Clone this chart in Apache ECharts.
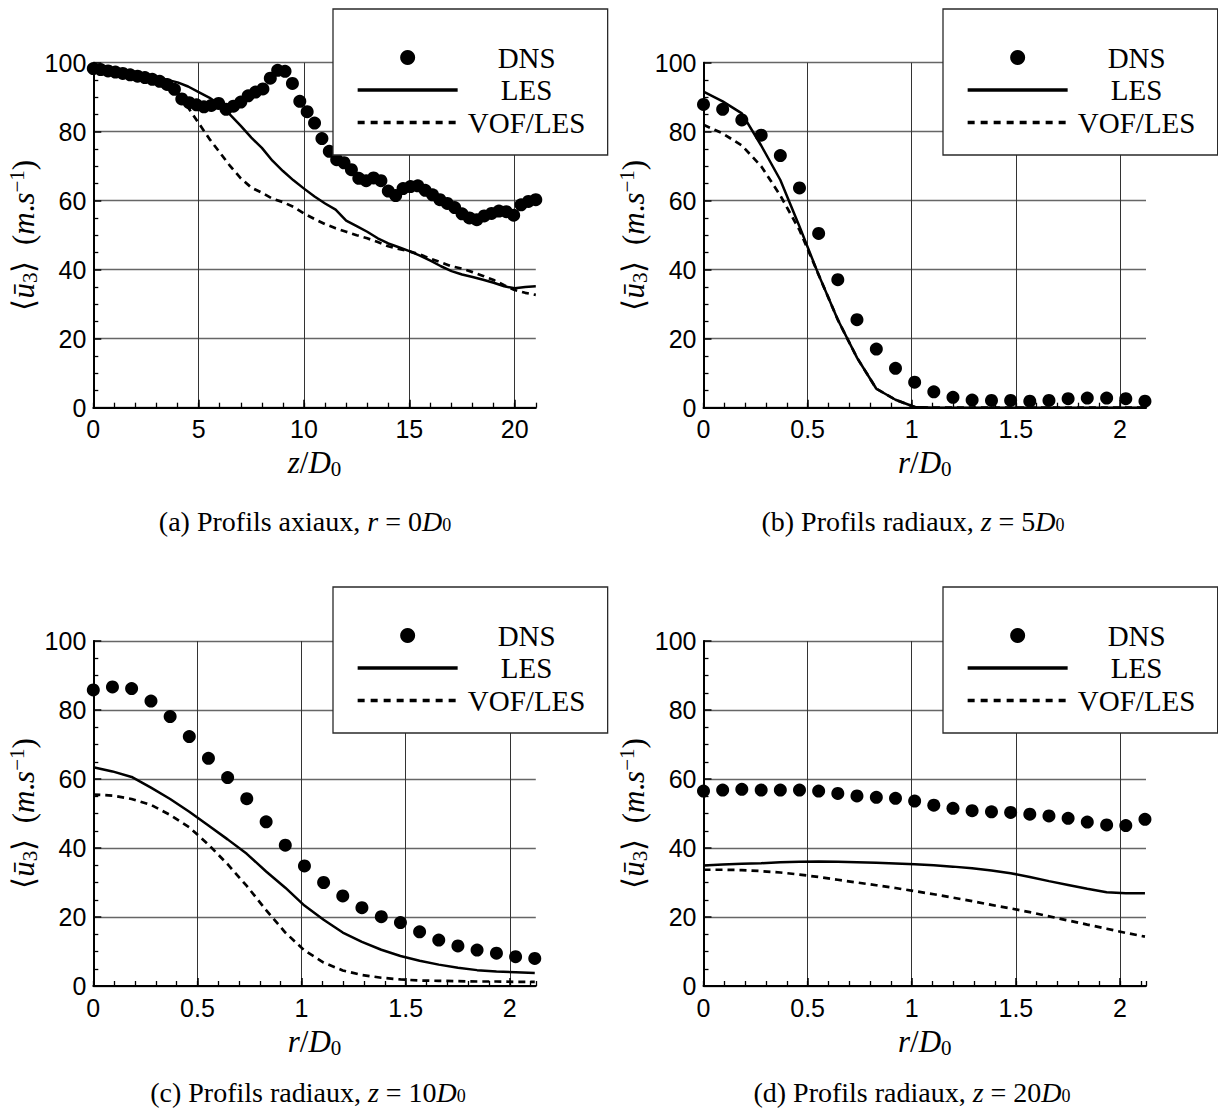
<!DOCTYPE html>
<html><head><meta charset="utf-8">
<script src="https://cdn.jsdelivr.net/npm/echarts@6/dist/echarts.min.js"></script>
<style>html,body{margin:0;padding:0;background:#fff}#c{width:1218px;height:1110px}</style>
</head><body><div id="c"></div>
<script>
// ---------- data ----------
// (a) axial profiles, r = 0 D0
const zDns = [0,0.35,0.7,1.05,1.4,1.75,2.1,2.45,2.8,3.15,3.5,3.85,4.2,4.55,4.9,5.25,5.6,5.95,6.3,6.65,7,7.35,7.7,8.05,8.4,8.75,9.1,9.45,9.8,10.15,10.5,10.85,11.2,11.55,11.9,12.25,12.6,12.95,13.3,13.65,14,14.35,14.7,15.05,15.4,15.75,16.1,16.45,16.8,17.15,17.5,17.85,18.2,18.55,18.9,19.25,19.6,19.95,20.3,20.65,21];
const dnsA = [98.3,98.0,97.6,97.3,96.9,96.5,96.1,95.7,95.2,94.6,93.7,92.3,89.5,88.4,87.8,87.2,87.6,88.2,86.5,87.4,88.6,90.4,91.5,92.4,95.5,97.8,97.5,94.0,88.8,85.8,82.5,78.0,74.3,71.9,71.0,69.0,66.5,65.8,66.6,65.8,62.8,61.5,63.5,64.1,64.3,63.0,61.7,60.3,59.2,58.0,56.2,55.0,54.5,55.6,56.3,57.0,56.8,55.8,58.8,59.8,60.3];
const zLes = [0,1,2,3,4,4.5,5,5.5,6,6.5,7,7.5,8,8.5,9,9.5,10,10.5,11,11.5,12,12.5,13,13.5,14,14.5,15,15.5,16,16.5,17,17.5,18,18.5,19,19.5,20,20.5,21];
const lesA = [98.8,98.0,97.0,95.8,94.3,93.1,91.5,89.9,87.9,84.9,81.7,78.3,75.3,71.6,68.6,65.9,63.5,61.2,59.2,57.4,54.2,52.6,51.0,49.1,47.6,46.5,45.4,44.1,42.6,41.0,39.6,38.6,37.9,37.1,36.2,35.2,34.6,35.0,35.2];
const vofA = [98.8,98.0,97.0,95.8,93.0,87.0,82.5,78.0,74.0,70.0,66.5,63.8,62.3,60.6,59.6,58.2,56.3,54.7,53.2,52.0,51.0,50.0,49.1,48.0,46.8,46.0,45.3,44.4,43.2,42.1,41.0,40.3,39.3,38.2,37.0,35.5,34.1,33.3,32.7];

// radial positions r/D0 (shared by panels b, c, d)
const rPos = [0,0.092,0.184,0.277,0.369,0.461,0.553,0.645,0.737,0.830,0.922,1.014,1.106,1.198,1.290,1.383,1.475,1.567,1.659,1.751,1.843,1.936,2.028,2.120];
// (b) z = 5 D0
const dnsB = [87.9,86.5,83.4,79.0,73.1,63.7,50.5,37.1,25.5,17.0,11.4,7.4,4.6,3.0,2.2,2.1,2.1,1.9,2.1,2.6,2.8,2.8,2.6,1.9];
const lesB = [91.6,88.8,85.3,76.0,66.0,52.5,38.5,25.5,14.5,5.5,2.3,0.2,0,0,0,0,0,0,0,0,0,0,0,0];
const vofB = [82.0,79.5,76.0,70.0,61.5,51.5,38.5,25.5,14.5,5.5,2.3,0.2,0,0,0,0,0,0,0,0,0,0,0,0];
// (c) z = 10 D0
const dnsC = [85.8,86.7,86.2,82.6,78.1,72.3,66.0,60.4,54.3,47.6,40.8,34.8,30.0,26.1,22.7,20.1,18.4,15.7,13.3,11.6,10.4,9.5,8.5,8.0];
const lesC = [63.4,62.2,60.6,57.5,54.2,50.5,46.5,42.5,38.3,33.2,28.5,23.3,19.2,15.5,12.8,10.5,8.7,7.3,6.2,5.3,4.6,4.2,4.0,3.8];
const vofC = [55.5,55.2,54.2,52.5,49.6,46.0,41.0,35.3,29.0,22.0,15.5,10.3,6.8,4.5,3.2,2.4,1.9,1.6,1.5,1.4,1.3,1.3,1.2,1.2];
// (d) z = 20 D0
const dnsD = [56.5,56.8,57.0,56.8,56.8,56.8,56.5,55.8,55.1,54.7,54.4,53.6,52.4,51.5,50.8,50.5,50.3,49.8,49.3,48.6,47.5,46.7,46.5,48.3];
const lesD = [34.9,35.2,35.4,35.6,35.9,36.0,36.1,36.0,35.9,35.7,35.5,35.3,35.0,34.6,34.1,33.5,32.7,31.6,30.4,29.3,28.2,27.2,26.9,26.9];
const vofD = [33.7,33.7,33.6,33.3,32.9,32.3,31.6,30.8,30.0,29.2,28.4,27.5,26.6,25.6,24.6,23.5,22.5,21.4,20.2,19.0,17.8,16.6,15.4,14.3];

const seriesNames = ['DNS','LES','VOF/LES'];
const yTicks = {min:0, max:100, major:20, minorSplit:4};
const captions = [
  ['(a) Profils axiaux, ','r',' = 0'],
  ['(b) Profils radiaux, ','z',' = 5'],
  ['(c) Profils radiaux, ','z',' = 10'],
  ['(d) Profils radiaux, ','z',' = 20']
];
const xVar = ['z','r','r','r'];
const xMax = [21, 2.125, 2.125, 2.125];
const xMajor = [5, 0.5, 0.5, 0.5];
const xMinor = [1, 0.1, 0.1, 0.1];

// ---------- layout ----------
const SERIF = 'Liberation Serif';
const SANS = 'Liberation Sans';
const grids = [
  {left:93.3, top:62.7, width:442.5, height:345},
  {left:703.5, top:62.7, width:442.5, height:345},
  {left:93.3, top:641, width:442.5, height:345},
  {left:703.5, top:641, width:442.5, height:345}
];
const legendPos = [[333,9],[943,9],[333,587],[943,587]];
const captionPos = [[305,521],[913,521],[308,1092],[912,1092]];

const zip = (xs, ys) => xs.map((x,i)=>[x, ys[i]]);
const panels = [
  {dns: zip(zDns, dnsA), les: zip(zLes, lesA), vof: zip(zLes, vofA)},
  {dns: zip(rPos, dnsB), les: zip(rPos, lesB), vof: zip(rPos, vofB)},
  {dns: zip(rPos, dnsC), les: zip(rPos, lesC), vof: zip(rPos, vofC)},
  {dns: zip(rPos, dnsD), les: zip(rPos, lesD), vof: zip(rPos, vofD)}
];

const nameRich = {
  i:{fontFamily:SERIF, fontStyle:'italic', fontSize:31, lineHeight:34, color:'#000'},
  n:{fontFamily:SERIF, fontSize:31, lineHeight:34, color:'#000'},
  s:{fontFamily:SERIF, fontSize:21, lineHeight:22, verticalAlign:'bottom', color:'#000'},
  p:{fontFamily:SERIF, fontSize:21, lineHeight:22, verticalAlign:'top', color:'#000'}
};

const xAxes = [], yAxes = [], series = [], legends = [], graphics = [];
grids.forEach((g, k) => {
  xAxes.push({
    type:'value', gridIndex:k, position:'bottom', min:0, max:xMax[k], interval:xMajor[k],
    axisLine:{show:true, onZero:false, lineStyle:{color:'#000', width:2}},
    axisTick:{show:true, inside:true, length:8, lineStyle:{color:'#000', width:1.5}},
    axisLabel:{show:true, margin:9, showMaxLabel:false, color:'#000', fontFamily:SANS, fontSize:25},
    splitLine:{show:true, showMaxLine:false, lineStyle:{color:'#333', width:1}},
    name:'{i|' + xVar[k] + '}{n|/}{i|D}{s|0}', nameLocation:'middle', nameGap:38,
    nameTextStyle:{rich:nameRich}
  });
  xAxes.push({
    type:'value', gridIndex:k, position:'bottom', min:0, max:xMax[k], interval:xMinor[k],
    axisLine:{show:false}, axisLabel:{show:false}, splitLine:{show:false},
    axisTick:{show:true, inside:true, length:5, lineStyle:{color:'#000', width:1.3}}
  });
  yAxes.push({
    type:'value', gridIndex:k, min:yTicks.min, max:yTicks.max, interval:yTicks.major,
    axisLine:{show:true, onZero:false, lineStyle:{color:'#000', width:2}},
    axisTick:{show:true, inside:true, length:8, lineStyle:{color:'#000', width:1.5}},
    minorTick:{show:true, splitNumber:yTicks.minorSplit, length:5, lineStyle:{color:'#000', width:1.3}},
    axisLabel:{margin:7, color:'#000', fontFamily:SANS, fontSize:25},
    splitLine:{show:true, lineStyle:{color:'#666', width:1.3}},
    name:'{n|\u27E8}{i|\u016B}{s|3}{n|\u27E9  (}{i|m}{n|.}{i|s}{p|\u22121}{n|)}',
    nameLocation:'middle', nameGap:52, nameRotate:90,
    nameTextStyle:{rich:nameRich}
  });
  const p = panels[k];
  series.push({
    name:seriesNames[0], type:'scatter', xAxisIndex:2*k, yAxisIndex:k,
    symbol:'circle', symbolSize:13, itemStyle:{color:'#000', opacity:1}, data:p.dns, z:3
  });
  series.push({
    name:seriesNames[1], type:'line', xAxisIndex:2*k, yAxisIndex:k,
    symbol:'none', lineStyle:{color:'#000', width:2.5, type:'solid'}, itemStyle:{color:'#000'}, data:p.les, z:4
  });
  series.push({
    name:seriesNames[2], type:'line', xAxisIndex:2*k, yAxisIndex:k,
    symbol:'none', lineStyle:{color:'#000', width:2.7, type:[7,5]}, itemStyle:{color:'#000'}, data:p.vof, z:4
  });
  legends.push({
    show:true, orient:'vertical', left:legendPos[k][0], top:legendPos[k][1],
    padding:[34,17,18,23], itemGap:3.5, itemWidth:100, itemHeight:15,
    backgroundColor:'#fff', borderColor:'#2a2a2a', borderWidth:1.3,
    selectedMode:false, z:10,
    lineStyle:{width:3.3},
    data:[
      {name:'DNS', icon:'circle', itemStyle:{color:'#000', opacity:1}},
      {name:'LES', itemStyle:{opacity:0}, lineStyle:{width:3.3, type:'solid'}},
      {name:'VOF/LES', itemStyle:{opacity:0}, lineStyle:{width:3.3, type:[7,6]}}
    ],
    formatter: n => '{t|' + n + '}',
    textStyle:{rich:{t:{width:128, align:'center', fontFamily:SERIF, fontSize:29, lineHeight:30, color:'#000'}}}
  });
  const c = captions[k];
  graphics.push({
    type:'text', x:captionPos[k][0], y:captionPos[k][1],
    style:{
      text:'{a|' + c[0] + '}{i|' + c[1] + '}{a|' + c[2] + '}{i|D}{s|0}',
      align:'center', verticalAlign:'middle',
      rich:{
        a:{fontFamily:SERIF, fontSize:28, lineHeight:26, fill:'#000', color:'#000'},
        i:{fontFamily:SERIF, fontStyle:'italic', fontSize:28, lineHeight:26, fill:'#000', color:'#000'},
        s:{fontFamily:SERIF, fontSize:18, lineHeight:16, verticalAlign:'bottom', fill:'#000', color:'#000'}
      }
    }
  });
});

const chart = echarts.init(document.getElementById('c'), null, {renderer:'svg'});
chart.setOption({
  animation:false,
  backgroundColor:'#fff',
  grid:grids,
  xAxis:xAxes,
  yAxis:yAxes,
  legend:legends,
  series:series,
  graphic:graphics
});
</script>
</body></html>
